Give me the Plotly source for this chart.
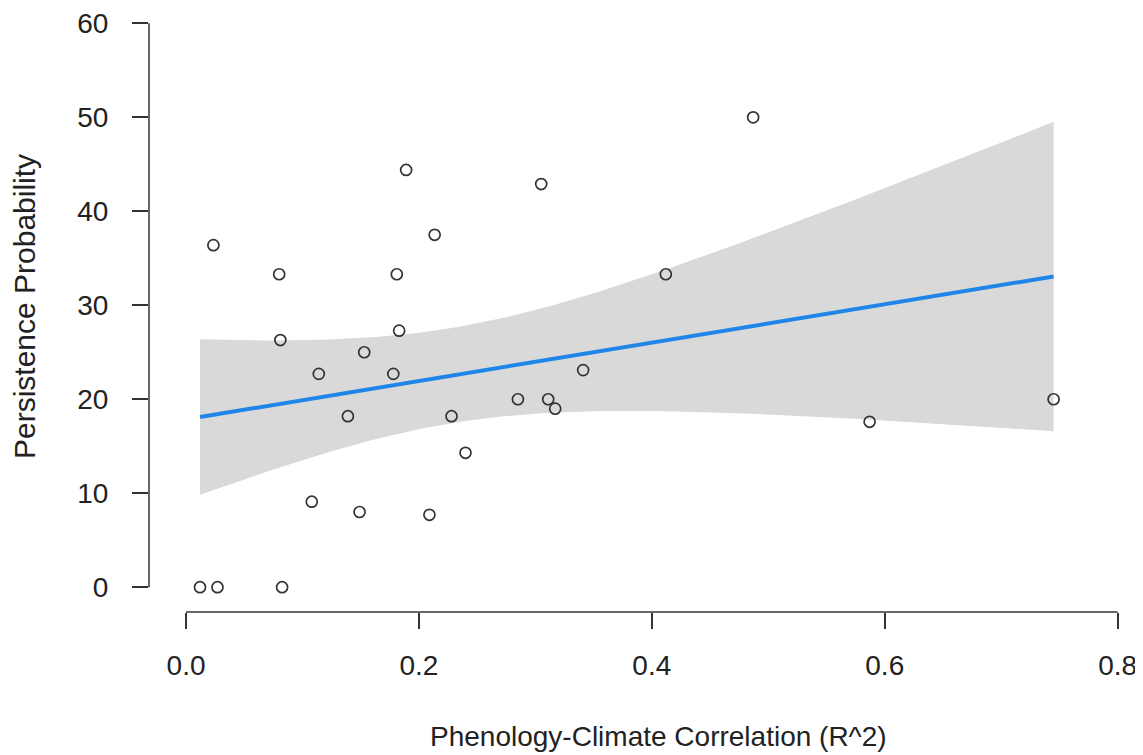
import numpy as np
import plotly.graph_objects as go

# Data
r2_values = [0.012, 0.027, 0.0825, 0.0235, 0.080, 0.081, 0.108, 0.114, 0.139, 0.149,
             0.153, 0.178, 0.181, 0.183, 0.189, 0.209, 0.2135, 0.228, 0.240, 0.285,
             0.305, 0.311, 0.317, 0.341, 0.412, 0.487, 0.587, 0.745]
persistence = [0.0, 0.0, 0.0, 36.4, 33.3, 26.3, 9.1, 22.7, 18.2, 8.0,
               25.0, 22.7, 33.3, 27.3, 44.4, 7.7, 37.5, 18.2, 14.3, 20.0,
               42.9, 20.0, 19.0, 23.1, 33.3, 50.0, 17.6, 20.0]
x_ticks = [0.0, 0.2, 0.4, 0.6, 0.8]
x_tick_labels = ["0.0", "0.2", "0.4", "0.6", "0.8"]
y_ticks = [0, 10, 20, 30, 40, 50, 60]
y_tick_labels = ["0", "10", "20", "30", "40", "50", "60"]
T_CRIT = 2.0555  # 95% t quantile, df = n - 2 = 26

# Linear fit with 95% confidence band
x = np.array(r2_values)
y = np.array(persistence)
n = len(x)
slope, intercept = np.polyfit(x, y, 1)
resid = y - (intercept + slope * x)
s = np.sqrt(np.sum(resid ** 2) / (n - 2))
sxx = np.sum((x - x.mean()) ** 2)
xs = np.linspace(x.min(), x.max(), 120)
fit = intercept + slope * xs
se = s * np.sqrt(1.0 / n + (xs - x.mean()) ** 2 / sxx)
upper = fit + T_CRIT * se
lower = fit - T_CRIT * se

AX = "#333333"
TXT = "#222222"
FONT = "Liberation Sans, Arial, sans-serif"

W, H = 1135, 747
L, R, T, B = 141, 13, 0, 143
PW, PH = W - L - R, H - T - B

fig = go.Figure()
fig.add_trace(go.Scatter(
    x=np.concatenate([xs, xs[::-1]]), y=np.concatenate([upper, lower[::-1]]),
    fill="toself", fillcolor="#d9d9d9", line=dict(width=0), mode="lines",
    hoverinfo="skip", showlegend=False))
fig.add_trace(go.Scatter(
    x=xs, y=fit, mode="lines", line=dict(color="#1f86e8", width=4),
    showlegend=False))
fig.add_trace(go.Scatter(
    x=r2_values, y=persistence, mode="markers",
    marker=dict(symbol="circle-open", size=11, color=AX, line=dict(width=1.7, color=AX)),
    showlegend=False))

# R-style detached axis lines
fig.add_shape(type="line", xref="x", yref="paper", x0=x_ticks[0], x1=x_ticks[-1], y0=0, y1=0,
              line=dict(color=AX, width=1.5))
fig.add_shape(type="line", xref="paper", yref="y", x0=0, x1=0, y0=y_ticks[0], y1=y_ticks[-1],
              line=dict(color=AX, width=1.5))

fig.update_layout(
    width=W, height=H,
    margin=dict(l=L, r=R, t=T, b=B),
    paper_bgcolor="white", plot_bgcolor="white",
    font=dict(family=FONT, size=28, color=TXT),
    xaxis=dict(range=[-0.0318, 0.8106], tickvals=x_ticks, ticktext=x_tick_labels,
               showgrid=False, zeroline=False, showline=False,
               ticks="outside", ticklen=16, tickwidth=1.5, tickcolor=AX,
               ticklabeloverflow="allow",
               ticklabelstandoff=12, tickfont=dict(size=28, family=FONT, color=TXT)),
    yaxis=dict(range=[-2.64, 61.21], tickvals=y_ticks, ticktext=y_tick_labels,
               showgrid=False, zeroline=False, showline=False,
               ticks="outside", ticklen=16, tickwidth=1.5, tickcolor=AX,
               ticklabeloverflow="allow",
               ticklabelstandoff=18, tickfont=dict(size=28, family=FONT, color=TXT)),
    annotations=[
        dict(text="Phenology-Climate Correlation (R^2)", xref="paper", yref="paper",
             x=(650 - L) / PW, y=-(729 - PH) / PH,
             xanchor="center", yanchor="middle", showarrow=False,
             font=dict(size=28, family=FONT, color=TXT)),
        dict(text="Persistence Probability", xref="paper", yref="paper",
             x=-(L - 16) / PW, y=(PH - 297) / PH,
             xanchor="center", yanchor="middle", textangle=-90, showarrow=False,
             font=dict(size=30, family=FONT, color=TXT)),
    ],
)

fig.write_html("out.html")
